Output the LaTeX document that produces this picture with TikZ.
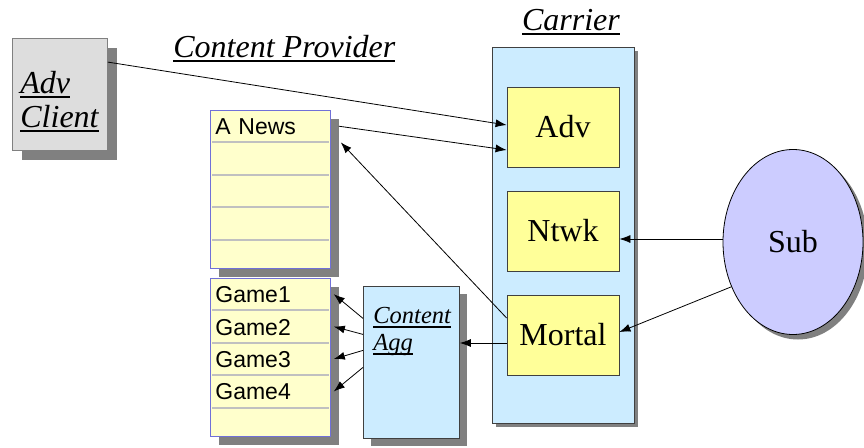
\documentclass[tikz,border=0pt]{standalone}
\usepackage{fontspec}
\setmainfont{Liberation Serif}
\newfontfamily\arialfont{Liberation Sans}
\usetikzlibrary{arrows.meta,shapes.geometric,shadows,positioning}

\definecolor{cellyellow}{HTML}{FFFFCC}
\definecolor{cellborder}{HTML}{7070D8}
\definecolor{cellsep}{HTML}{C0C0C0}
\definecolor{carrierblue}{HTML}{CCECFF}
\definecolor{unityellow}{HTML}{FFFF99}
\definecolor{subviolet}{HTML}{CCCCFF}
\definecolor{shadowgray}{HTML}{808080}
\definecolor{clientgray}{HTML}{DDDDDD}
\definecolor{edgegray}{HTML}{404040}

\newcommand{\bigserif}{\fontsize{32}{34}\selectfont}
\newcommand{\smallserif}{\fontsize{24.5}{27}\selectfont}
\newsavebox{\ulbox}
\newcommand{\ulit}[1]{\sbox{\ulbox}{\textit{#1}}\rlap{\rule[-5pt]{\wd\ulbox}{1.7pt}}\usebox{\ulbox}}

\tikzset{
  shade/.style = {drop shadow = {shadow xshift = #1, shadow yshift = -#1, fill = shadowgray, opacity = 1}},
  title/.style = {inner sep = 0, font = \bigserif},
  clientbox/.style = {rectangle, fill = clientgray, draw = gray, shade = 10pt},
  carrierbox/.style = {rectangle, fill = carrierblue, draw = edgegray, shade = 4pt},
  unitbox/.style = {rectangle, fill = unityellow, draw = edgegray, minimum width = 112, minimum height = 80, font = \bigserif},
  subnode/.style = {ellipse, fill = subviolet, draw = black, minimum width = 140, minimum height = 185, inner sep = 0, font = \bigserif, shade = 5pt},
  tableframe/.style = {rectangle, fill = cellyellow, draw = cellborder, minimum width = 120, minimum height = 158, inner sep = 0, shade = 9pt},
  cell/.style = {rectangle, minimum width = 120, minimum height = 31.6, inner sep = 0, text width = 110, align = left, text height = 17, text depth = 0, font = \arialfont\fontsize{23}{26}\selectfont},
  sepline/.style = {cellsep, line width = 2pt},
  aggbox/.style = {rectangle, fill = carrierblue, draw = edgegray, minimum width = 96, minimum height = 152, inner sep = 0, shade = 8pt}
}

\begin{document}
\begin{tikzpicture}[x = 1pt, y = -1pt, line width = 0.8pt, > = {Latex[length = 11pt, width = 8pt]}]
	\useasboundingbox (0,0) rectangle (864,447);

	% headings
	\node [title, anchor = base west] (provlbl) at (173,57) {\ulit{Content Provider}};
	\node [title, anchor = base] (carrlbl) at (571,30) {\ulit{Carrier}};

	% advertiser
	\node [clientbox, anchor = north west, minimum width = 95, minimum height = 112] (advclient) at (12,38) {};
	\node [title, align = left, anchor = west] (clienttxt) at ([xshift = 8pt, yshift = -7pt]advclient.west) {\ulit{Adv}\\\ulit{Client}};

	% carrier
	\node [carrierbox, anchor = north west, minimum width = 142, minimum height = 376] (carrier) at (492,47) {};
	\node [unitbox] (adv) at (563,127) {Adv};
	\node [unitbox] (ntwk) at (563,231) {Ntwk};
	\node [unitbox] (mortal) at (563,335) {Mortal};

	% subscriber
	\node [subnode] (sub) at (793,242) {Sub};

	% news table
	\node [tableframe, anchor = north west] (newstable) at (210,110) {};
	\node [cell, anchor = north west] (news1) at (newstable.north west) {A News};
	\foreach \r [count = \p] in {2,...,5}
		\node [cell, below = 0pt of news\p] (news\r) {};
	\foreach \r in {1,...,4}
		\draw [sepline] ([xshift = 2pt]news\r.south west) -- ([xshift = -2pt]news\r.south east);

	% games table
	\node [tableframe, anchor = north west] (gametable) at (210,278) {};
	\node [cell, anchor = north west] (game1) at (gametable.north west) {Game1};
	\node [cell, below = 0pt of game1] (game2) {Game2};
	\node [cell, below = 0pt of game2] (game3) {Game3};
	\node [cell, below = 0pt of game3] (game4) {Game4};
	\node [cell, below = 0pt of game4] (game5) {};
	\foreach \r in {1,...,4}
		\draw [sepline] ([xshift = 2pt]game\r.south west) -- ([xshift = -2pt]game\r.south east);

	% aggregator
	\node [aggbox, anchor = north west] (agg) at (363,286) {};
	\node [inner sep = 0, align = left, anchor = base west, font = \smallserif] (aggtxt) at (373,350) {\ulit{Content}\\\ulit{Agg}};

	% connectors
	\draw [->] (advclient.34) -- ([yshift = 2pt]adv.west);
	\draw [->] ([xshift = 8pt]news1.east) -- ([yshift = -23pt]adv.west);
	\draw [->] ([yshift = 17pt]mortal.west) -- ([xshift = 10pt]news1.south east);
	\coordinate (mortalout) at ([yshift = -8pt]mortal.west);
	\draw [->] (mortalout) -- (mortalout -| agg.east);
	\coordinate (subout) at ([yshift = 3pt]sub.west);
	\draw [->] (subout) -- (subout -| ntwk.east);
	\draw [->] (sub.216) -- ([yshift = 3pt]mortal.east);
	\foreach \g/\dy in {1/44, 2/28, 3/12, 4/-5}
		\draw [->] ([yshift = \dy pt]agg.west) -- ([xshift = 3pt]game\g.east);
\end{tikzpicture}
\end{document}
